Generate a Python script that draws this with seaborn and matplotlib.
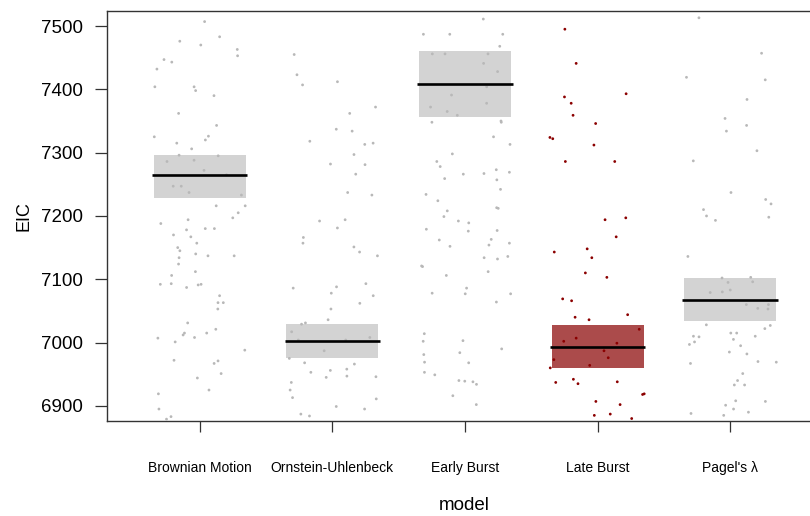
# EIC by model: jittered points with mean line and interval band

import numpy as np
import pandas as pd
import matplotlib
matplotlib.use('Agg')
import matplotlib.pyplot as plt
import seaborn as sns

models = ['Brownian Motion', 'Ornstein-Uhlenbeck', 'Early Burst', 'Late Burst', "Pagel's λ"]

bm_eic = [7507, 7483, 7476, 7470, 7463, 7453, 7447, 7443, 7432, 7404, 7404, 7398, 7390, 7362,
          7343, 7326, 7325, 7320, 7315, 7306, 7296, 7295, 7288, 7286, 7272, 7265, 7247, 7247,
          7237, 7233, 7216, 7216, 7205, 7197, 7194, 7188, 7180, 7180, 7178, 7170, 7167, 7157,
          7150, 7145, 7140, 7137, 7137, 7134, 7124, 7112, 7106, 7093, 7092, 7092, 7091, 7087,
          7074, 7063, 7063, 7053, 7031, 7021, 7015, 7015, 7012, 7008, 7007, 7001, 6988, 6972,
          6971, 6967, 6951, 6944, 6925, 6919, 6895, 6883, 6879]
ou_eic = [7455, 7423, 7412, 7407, 7372, 7362, 7337, 7334, 7318, 7315, 7313, 7297, 7282, 7281,
          7266, 7237, 7233, 7194, 7192, 7181, 7166, 7157, 7151, 7143, 7137, 7093, 7088, 7086,
          7078, 7074, 7062, 7053, 7036, 7031, 7029, 7017, 7008, 7004, 7004, 6987, 6975, 6968,
          6966, 6958, 6956, 6953, 6947, 6946, 6945, 6937, 6925, 6913, 6911, 6899, 6895, 6887,
          6884]
eb_eic = [7511, 7487, 7487, 7487, 7468, 7456, 7456, 7456, 7441, 7428, 7404, 7391, 7378, 7372,
          7365, 7359, 7350, 7348, 7348, 7325, 7313, 7298, 7286, 7278, 7273, 7269, 7267, 7266,
          7259, 7257, 7242, 7234, 7224, 7213, 7212, 7208, 7199, 7192, 7189, 7179, 7177, 7176,
          7163, 7162, 7157, 7154, 7152, 7136, 7134, 7132, 7121, 7120, 7112, 7106, 7086, 7078,
          7077, 7077, 7064, 7014, 7003, 7002, 6990, 6984, 6981, 6969, 6968, 6953, 6949, 6940,
          6939, 6938, 6934, 6916, 6902]
lb_eic = [7495, 7441, 7393, 7388, 7378, 7359, 7346, 7324, 7322, 7312, 7286, 7286, 7197, 7194,
          7167, 7148, 7143, 7134, 7110, 7103, 7069, 7066, 7044, 7040, 7036, 7021, 7007, 7002,
          6999, 6987, 6976, 6973, 6964, 6960, 6942, 6938, 6937, 6935, 6919, 6918, 6907, 6902,
          6887, 6885, 6880]
pagel_eic = [7513, 7457, 7419, 7415, 7384, 7354, 7343, 7334, 7303, 7287, 7237, 7226, 7219, 7210,
             7200, 7198, 7193, 7136, 7103, 7102, 7096, 7095, 7083, 7080, 7079, 7060, 7060, 7054,
             7053, 7028, 7027, 7022, 7015, 7015, 7010, 7010, 7009, 7005, 7001, 6997, 6995, 6985,
             6982, 6970, 6969, 6967, 6951, 6940, 6933, 6933, 6908, 6907, 6901, 6895, 6890, 6888,
             6885]

eic_mean = [7264, 7002, 7408, 6993, 7067]
eic_lower = [7228, 6976, 7356, 6960, 7034]
eic_upper = [7296, 7030, 7461, 7027, 7102]

point_colors = ['#b8b8b8', '#b8b8b8', '#b8b8b8', '#8b0000', '#b8b8b8']
band_colors = ['#d3d3d3', '#d3d3d3', '#d3d3d3', '#ab4b4b', '#d3d3d3']

# long table for seaborn
groups = [bm_eic, ou_eic, eb_eic, lb_eic, pagel_eic]
df = pd.DataFrame({
    'model': np.repeat(models, [len(g) for g in groups]),
    'EIC': np.concatenate(groups),
})

sns.set_theme(style='white')
plt.rcParams['font.family'] = ['Liberation Sans', 'DejaVu Sans']
plt.rcParams['text.color'] = 'black'
plt.rcParams['axes.labelcolor'] = 'black'
plt.rcParams['xtick.color'] = 'black'
plt.rcParams['ytick.color'] = 'black'

fig = plt.figure(figsize=(8.1, 5.16), dpi=100)
ax = fig.add_axes([0.132, 0.184, 0.871, 0.795])

# interval bands and mean lines
xpos = np.arange(len(models))
ax.bar(xpos, np.array(eic_upper) - np.array(eic_lower), bottom=eic_lower, width=0.695,
       color=band_colors, linewidth=0, zorder=1)
ax.hlines(eic_mean, xpos - 0.36, xpos + 0.36, color='black', linewidth=1.9, zorder=4)

np.random.seed(3)
sns.stripplot(data=df, x='model', y='EIC', hue='model', order=models, hue_order=models,
              palette=point_colors, jitter=0.36, size=2.0, linewidth=0, legend=False,
              ax=ax, zorder=3)

ax.set_xlim(-0.70, 4.62)
ax.set_ylim(6876, 7524)
ax.set_yticks([6900, 7000, 7100, 7200, 7300, 7400, 7500])

for side in ['left', 'bottom', 'top']:
    ax.spines[side].set_color('#333333')
    ax.spines[side].set_linewidth(1.0)
ax.spines['right'].set_visible(False)

ax.tick_params(axis='y', direction='out', length=8.5, width=0.9, pad=8.5, labelsize=13.5,
               color='#333333', labelcolor='black', left=True)
ax.tick_params(axis='x', direction='out', length=8, width=0.9, pad=21, labelsize=10,
               color='#333333', labelcolor='black', bottom=True)

ax.set_xlabel('model', fontsize=13.5)
ax.set_ylabel('EIC', fontsize=13)
ax.xaxis.set_label_coords(0.506, -0.185)
ax.yaxis.set_label_coords(-0.106, 0.5)

fig.savefig('out.png', dpi=100)
